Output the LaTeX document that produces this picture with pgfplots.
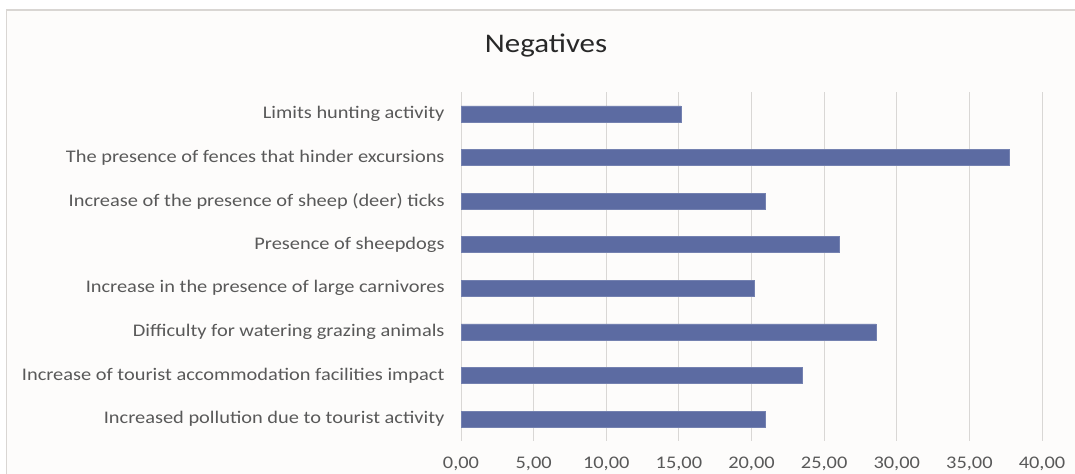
\documentclass[border=0pt]{standalone}
\usepackage{fontspec}
\setmainfont[FakeStretch=1.15]{Carlito}
\usepackage{pgfplots}
\pgfplotsset{compat=1.18}
\definecolor{barblue}{RGB}{92,107,162}
\definecolor{gridc}{RGB}{217,215,213}
\definecolor{framec}{RGB}{217,214,211}
\definecolor{bgc}{RGB}{253,252,251}
\definecolor{labc}{RGB}{89,89,89}
\definecolor{titc}{RGB}{40,40,40}
\begin{document}
\begin{tikzpicture}[x=1bp,y=1bp]
\useasboundingbox (0,0) rectangle (1075,474);
\fill[white] (0,0) rectangle (1075,474);
\fill[bgc] (6.5,-5) rectangle (1085,464);
\draw[framec, line width=1.5bp] (6.5,-5) -- (6.5,464) -- (1085,464);
\node[anchor=base, text=titc, font=\fontsize{27}{31}\selectfont] at (546,421) {Negatives};
\begin{axis}[
  at={(461bp,33bp)}, anchor=south west,
  scale only axis, width=581bp, height=349bp,
  xbar, bar width=16bp,
  xmin=0, xmax=40, ymin=-0.5, ymax=7.5,
  xtick={0,5,...,40},
  ytick={0,...,7},
  yticklabels={Increased pollution due to tourist activity,
    Increase of tourist accommodation facilities impact,
    Difficulty for watering grazing animals,
    Increase in the presence of large carnivores,
    Presence of sheepdogs,
    Increase of the presence of sheep (deer) ticks,
    The presence of fences that hinder excursions,
    Limits hunting activity},
  axis line style={draw=none},
  major tick length=0pt,
  tick style={draw=none},
  xmajorgrids, grid style={gridc, line width=1bp},
  ticklabel style={text=labc, font=\fontsize{17.8}{20}\selectfont},
  yticklabel style={xshift=-13bp},
  xticklabel style={yshift=-12bp},
  /pgf/number format/.cd, fixed, fixed zerofill, precision=2, use comma, assume math mode=true,
]
\addplot[fill=barblue, draw=barblue!85!white, line width=0.5bp] coordinates {
  (20.93,0) (23.46,1) (28.58,2) (20.22,3) (26.02,4) (20.93,5) (37.75,6) (15.13,7)
};
\end{axis}
\end{tikzpicture}
\end{document}
